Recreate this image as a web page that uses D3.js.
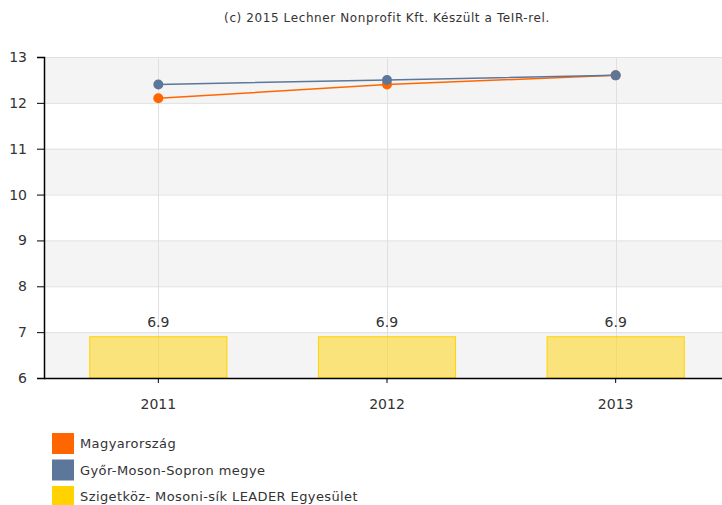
<!DOCTYPE html>
<html>
<head>
<meta charset="utf-8">
<script src="https://cdn.jsdelivr.net/npm/d3@7"></script>
<style>
  body { margin: 0; background: #fff; }
  text { font-family: "DejaVu Sans", Verdana, sans-serif; fill: #333; }
</style>
</head>
<body>
<div id="chart"></div>
<script>
// data
const years = ['2011', '2012', '2013'];
const seriesNames = ['Magyarország', 'Győr-Moson-Sopron megye', 'Szigetköz- Mosoni-sík LEADER Egyesület'];
const hungary = [12.1, 12.4, 12.6];
const county = [12.4, 12.5, 12.6];
const leader = [6.9, 6.9, 6.9];
const yTicks = [6, 7, 8, 9, 10, 11, 12, 13];
const colors = ['#ff6600', '#5c7799', '#ffd200'];

const width = 722;
const height = 505;
const plot = { left: 44, right: 730, top: 57, bottom: 378 };

const svg = d3.select('#chart')
  .append('svg')
  .attr('width', width)
  .attr('height', height);

// title
svg.append('text')
  .attr('x', 387)
  .attr('y', 22)
  .attr('text-anchor', 'middle')
  .style('font-size', '12px')
  .style('letter-spacing', '0.6px')
  .text('(c) 2015 Lechner Nonprofit Kft. Készült a TeIR-rel.');

const x = d3.scaleBand()
  .domain(years)
  .range([plot.left, plot.right]);

const y = d3.scaleLinear()
  .domain([6, 13])
  .range([plot.bottom, plot.top]);

// alternating bands
svg.append('g')
  .selectAll('rect')
  .data(yTicks.slice(0, -1).filter(d => (13 - d) % 2 === 1))
  .enter()
  .append('rect')
  .attr('x', plot.left)
  .attr('width', width - plot.left)
  .attr('y', d => y(d + 1))
  .attr('height', d => y(d) - y(d + 1))
  .attr('fill', '#f4f4f4');

// horizontal grid
svg.append('g')
  .selectAll('line')
  .data(yTicks)
  .enter()
  .append('line')
  .attr('x1', plot.left)
  .attr('x2', width)
  .attr('y1', d => y(d) + 0.5)
  .attr('y2', d => y(d) + 0.5)
  .attr('stroke', '#e0e0e0');

// vertical grid
svg.append('g')
  .selectAll('line')
  .data(years)
  .enter()
  .append('line')
  .attr('x1', d => Math.round(x(d) + x.bandwidth() / 2) + 0.5)
  .attr('x2', d => Math.round(x(d) + x.bandwidth() / 2) + 0.5)
  .attr('y1', plot.top)
  .attr('y2', plot.bottom)
  .attr('stroke', '#e0e0e0');

// bars
const barW = x.bandwidth() * 0.6;
svg.append('g')
  .selectAll('rect')
  .data(leader)
  .enter()
  .append('rect')
  .attr('x', (d, i) => x(years[i]) + (x.bandwidth() - barW) / 2)
  .attr('width', barW)
  .attr('y', d => y(d))
  .attr('height', d => y(6) - y(d))
  .attr('fill', 'rgba(255, 210, 0, 0.5)')
  .attr('stroke', '#ffd200')
  .attr('stroke-width', 1);

svg.append('g')
  .selectAll('text')
  .data(leader)
  .enter()
  .append('text')
  .attr('x', (d, i) => x(years[i]) + x.bandwidth() / 2)
  .attr('y', d => y(d) - 10)
  .attr('text-anchor', 'middle')
  .style('font-size', '14px')
  .text(d => d.toFixed(1));

// lines
const cx = (d, i) => x(years[i]) + x.bandwidth() / 2;
const line = d3.line()
  .x(cx)
  .y(d => y(d));

[hungary, county].forEach((vals, k) => {
  svg.append('path')
    .datum(vals)
    .attr('d', line)
    .attr('fill', 'none')
    .attr('stroke', colors[k])
    .attr('stroke-width', 1.5);
});

[hungary, county].forEach((vals, k) => {
  svg.append('g')
    .selectAll('circle')
    .data(vals)
    .enter()
    .append('circle')
    .attr('cx', cx)
    .attr('cy', d => y(d))
    .attr('r', 5)
    .attr('fill', colors[k]);
});

// axes
const yAxis = svg.append('g')
  .attr('transform', `translate(${plot.left},0)`)
  .call(d3.axisLeft(y).tickValues(yTicks).tickFormat(d3.format('d')).tickSize(7).tickPadding(10));
yAxis.selectAll('text').style('font-size', '14px');
yAxis.selectAll('.tick line').attr('stroke', '#000');
yAxis.select('.domain').attr('stroke', '#000').attr('stroke-width', 1.5);

const xAxis = svg.append('g')
  .attr('transform', `translate(0,${plot.bottom})`)
  .call(d3.axisBottom(x).tickSize(5).tickPadding(16).tickSizeOuter(0));
xAxis.selectAll('text').style('font-size', '14px');
xAxis.selectAll('.tick line').attr('stroke', '#000');
xAxis.select('.domain').attr('d', `M${plot.left},0.5H${width}`).attr('stroke', '#000').attr('stroke-width', 1.5);

// legend
const legend = svg.append('g')
  .selectAll('g')
  .data(seriesNames)
  .enter()
  .append('g')
  .attr('transform', (d, i) => `translate(52,${433 + i * 26.5})`);

legend.append('rect')
  .attr('width', 22)
  .attr('height', 21)
  .attr('fill', (d, i) => colors[i]);

legend.append('text')
  .attr('x', 28)
  .attr('y', 15)
  .style('font-size', '13px')
  .style('letter-spacing', '0.4px')
  .text(d => d);
</script>
</body>
</html>
